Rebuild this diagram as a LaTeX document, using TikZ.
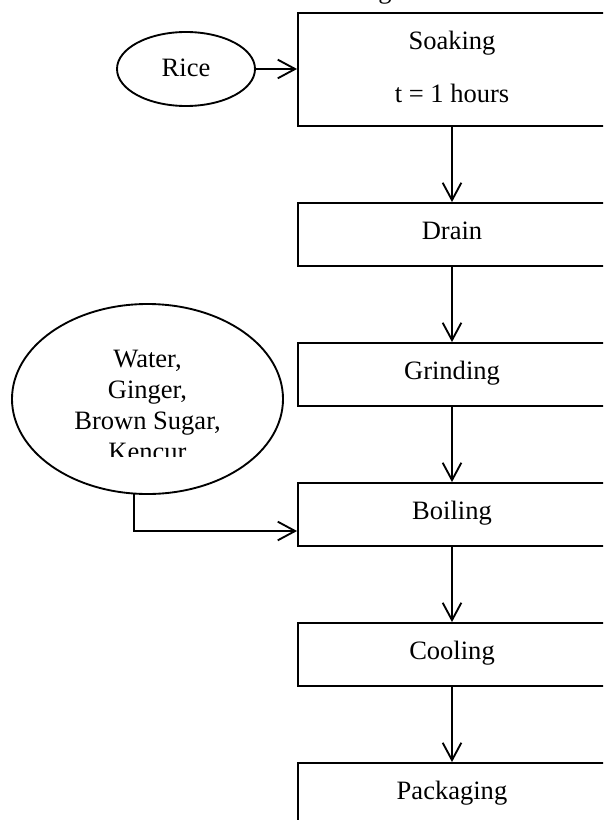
\documentclass[tikz,border=0pt]{standalone}
\usepackage{fontspec}
\setmainfont{Liberation Serif}
\usetikzlibrary{shapes.geometric,arrows.meta,calc}
\begin{document}
\begin{tikzpicture}[x=0.75pt,y=-0.75pt,
  every node/.style={font=\fontsize{19.9}{23}\selectfont, inner sep=0pt},
  stepbox/.style={draw, line width=1.4pt, minimum width=231pt, minimum height=47.25pt, text height=11pt, text depth=4.2pt},
  oval/.style={draw, ellipse, line width=1.4pt},
  arr/.style={line width=1.4pt, -{Straight Barb[length=13pt,width=14pt,line width=1.4pt]}}]
\clip (0,0) rectangle (603,820);
% title fragment
\node[anchor=base] (title) at (385,-1.5) {g};
% boxes
\node[stepbox, minimum height=84.75pt] (soak) at (452,69.5) {};
\node[anchor=base] (soakA) at (452,50) {Soaking};
\node[anchor=base] (soakB) at (452,103) {t = 1 hours};
\node[stepbox] (drain) at (452,234.5) {Drain};
\node[stepbox] (grind) at (452,374.5) {Grinding};
\node[stepbox] (boil) at (452,514.5) {Boiling};
\node[stepbox] (cool) at (452,654.5) {Cooling};
\node[stepbox] (pack) at (452,794.5) {Packaging};
% inputs
\node[oval, minimum width=103.5pt, minimum height=55.5pt] (rice) at (186,69) {};
\node[anchor=base] (riceT) at (186,77) {Rice};
\node[oval, minimum width=203.25pt, minimum height=142.5pt] (ing) at (147.5,399) {};
\begin{scope}
\clip (0,300) rectangle (300,456.5);
\node[anchor=base] (ingA) at (147.5,367) {Water,};
\node[anchor=base] (ingB) at (147.5,398) {Ginger,};
\node[anchor=base] (ingC) at (147.5,429) {Brown Sugar,};
\node[anchor=base] (ingD) at (147.5,460) {Kencur};
\end{scope}
\coordinate (ingb) at (134,493.5);
% connectors
\draw[arr] (rice) -- (soak.west |- rice);
\draw[arr] (soak) -- (drain);
\draw[arr] (drain) -- (grind);
\draw[arr] (grind) -- (boil);
\draw[arr] (boil) -- (cool);
\draw[arr] (cool) -- (pack);
\draw[arr] (ingb) |- ($(boil.west)+(0,16.5)$);
\end{tikzpicture}
\end{document}
